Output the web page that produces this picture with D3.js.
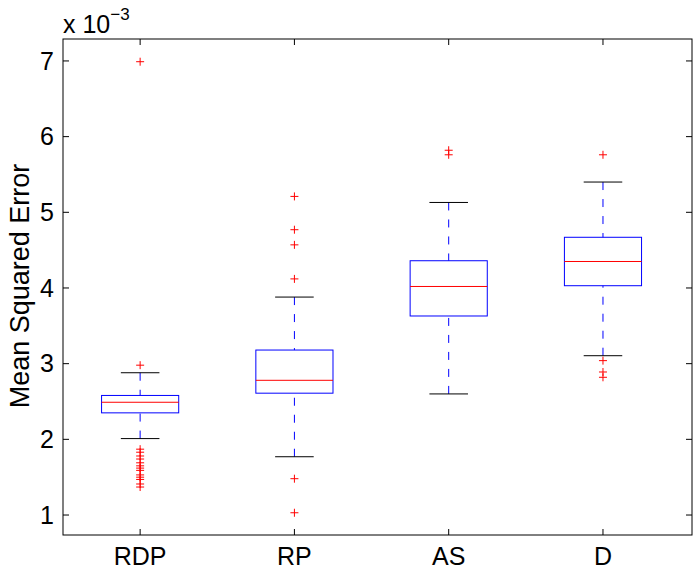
<!DOCTYPE html>
<html>
<head>
<meta charset="utf-8">
<script src="https://cdn.jsdelivr.net/npm/d3@7"></script>
<style>
  html, body { margin: 0; padding: 0; background: #fff; }
  svg { display: block; font-family: "Liberation Sans", Arial, Helvetica, sans-serif; }
</style>
</head>
<body>
<svg id="chart" width="698" height="577"></svg>
<script>
// Box-plot statistics per method (values in units of 1e-3)
const categories = ["RDP", "RP", "AS", "D"];
const q1 = [2.35, 2.61, 3.63, 4.03];
const medians = [2.49, 2.78, 4.02, 4.35];
const q3 = [2.58, 3.18, 4.36, 4.67];
const whiskerLow = [2.01, 1.77, 2.60, 3.105];
const whiskerHigh = [2.88, 3.88, 5.13, 5.40];
const outliers = [
  [6.99, 2.98, 1.87, 1.83, 1.78, 1.74, 1.69, 1.65, 1.62, 1.59, 1.53, 1.50, 1.47, 1.41, 1.37],
  [5.21, 4.77, 4.57, 4.12, 1.48, 1.03],
  [5.82, 5.76],
  [5.76, 3.04, 2.89, 2.82]
];
const yTicks = [1, 2, 3, 4, 5, 6, 7];

const svg = d3.select("#chart");
const plotL = 63, plotR = 692, plotT = 39, plotB = 535;

const x = d3.scaleLinear().domain([0.5, 4.577]).range([plotL, plotR]);
const y = d3.scaleLinear().domain([0.736, 7.29]).range([plotB, plotT]);

const boxHalf = 0.25, capHalf = 0.125;
const g = svg.append("g");

categories.forEach((c, i) => {
  const cx = x(i + 1);
  const bx0 = x(i + 1 - boxHalf), bx1 = x(i + 1 + boxHalf);
  const cx0 = x(i + 1 - capHalf), cx1 = x(i + 1 + capHalf);

  // whiskers (dashed, drawn from cap toward box)
  g.append("line").attr("x1", cx).attr("x2", cx)
    .attr("y1", y(whiskerHigh[i])).attr("y2", y(q3[i]))
    .attr("stroke", "#0000ff").attr("stroke-width", 1)
    .attr("stroke-dasharray", "8,9");
  g.append("line").attr("x1", cx).attr("x2", cx)
    .attr("y1", y(whiskerLow[i])).attr("y2", y(q1[i]))
    .attr("stroke", "#0000ff").attr("stroke-width", 1)
    .attr("stroke-dasharray", "8,9");

  // caps
  [whiskerHigh[i], whiskerLow[i]].forEach(v => {
    g.append("line").attr("x1", cx0).attr("x2", cx1)
      .attr("y1", y(v)).attr("y2", y(v))
      .attr("stroke", "#000").attr("stroke-width", 1);
  });

  // box
  g.append("rect")
    .attr("x", bx0).attr("width", bx1 - bx0)
    .attr("y", y(q3[i])).attr("height", y(q1[i]) - y(q3[i]))
    .attr("fill", "none").attr("stroke", "#0000ff").attr("stroke-width", 1);

  // median
  g.append("line").attr("x1", bx0).attr("x2", bx1)
    .attr("y1", y(medians[i])).attr("y2", y(medians[i]))
    .attr("stroke", "#ff0000").attr("stroke-width", 1);

  // outliers as '+' markers
  outliers[i].forEach(v => {
    const py = y(v);
    g.append("path")
      .attr("d", `M${cx - 4},${py}H${cx + 4}M${cx},${py - 4}V${py + 4}`)
      .attr("stroke", "#ff0000").attr("stroke-width", 1).attr("fill", "none");
  });
});

// axes frame
svg.append("rect").attr("x", plotL).attr("y", plotT)
  .attr("width", plotR - plotL).attr("height", plotB - plotT)
  .attr("fill", "none").attr("stroke", "#000").attr("stroke-width", 1);

const tickLen = 6;
// y ticks (inward on both sides) and labels
const yAxis = svg.append("g");
yTicks.forEach(t => {
  const py = y(t);
  yAxis.append("line").attr("x1", plotL).attr("x2", plotL + tickLen).attr("y1", py).attr("y2", py).attr("stroke", "#000");
  yAxis.append("line").attr("x1", plotR).attr("x2", plotR - tickLen).attr("y1", py).attr("y2", py).attr("stroke", "#000");
  yAxis.append("text").attr("x", plotL - 9).attr("y", py).attr("dy", "0.35em")
    .attr("text-anchor", "end").attr("font-size", 25).text(t);
});

// x ticks and category labels
const xAxis = svg.append("g");
categories.forEach((c, i) => {
  const px = x(i + 1);
  xAxis.append("line").attr("x1", px).attr("x2", px).attr("y1", plotB).attr("y2", plotB - tickLen).attr("stroke", "#000");
  xAxis.append("line").attr("x1", px).attr("x2", px).attr("y1", plotT).attr("y2", plotT + tickLen).attr("stroke", "#000");
  xAxis.append("text").attr("x", px).attr("y", plotB + 30)
    .attr("text-anchor", "middle").attr("font-size", 25).text(c);
});

// exponent label
const expo = svg.append("text").attr("x", plotL).attr("y", 33).attr("font-size", 25);
expo.append("tspan").text("x 10");
expo.append("tspan").attr("font-size", 17).attr("dy", -13).text("\u22123");

// y-axis title
svg.append("text")
  .attr("transform", `translate(29,${(plotT + plotB) / 2 - 1}) rotate(-90)`)
  .attr("text-anchor", "middle").attr("font-size", 27)
  .text("Mean Squared Error");
</script>
</body>
</html>
